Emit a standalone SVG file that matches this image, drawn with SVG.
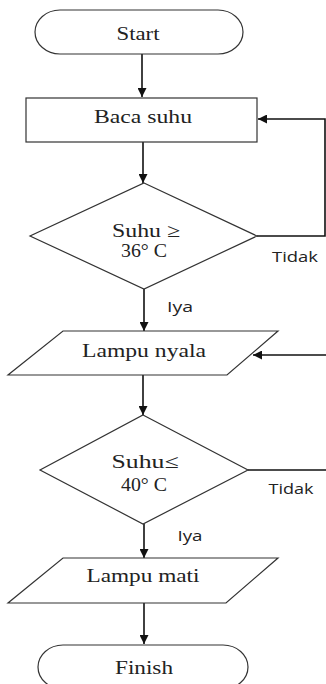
<svg xmlns="http://www.w3.org/2000/svg" width="326" height="684" viewBox="0 0 326 684">
<style>
.shape{fill:#fff;stroke:#333;stroke-width:1.2}
.conn{fill:none;stroke:#111;stroke-width:1.6}
.t{font-family:"Liberation Serif","Times New Roman",serif;font-size:19px;fill:#222;text-anchor:middle}
.lbl{font-family:"Open Sans","DejaVu Sans",sans-serif;font-size:15px;fill:#222;text-anchor:middle}
</style>
<defs>
<marker id="arr" viewBox="0 0 10 10" refX="10" refY="5" markerWidth="9" markerHeight="9" markerUnits="userSpaceOnUse" orient="auto">
<path d="M0,0 L10,5 L0,10 Z" fill="#111"/>
</marker>
</defs>
<rect width="326" height="684" fill="#fff"/>
<g id="connectors">
<line class="conn" x1="142" y1="54" x2="142" y2="97" marker-end="url(#arr)"/>
<line class="conn" x1="143" y1="142" x2="143" y2="183" marker-end="url(#arr)"/>
<polyline class="conn" points="257,236 325,236 325,119 258,119" marker-end="url(#arr)"/>
<line class="conn" x1="144" y1="289" x2="144" y2="331" marker-end="url(#arr)"/>
<line class="conn" x1="326" y1="355" x2="253" y2="355" marker-end="url(#arr)"/>
<line class="conn" x1="143" y1="375" x2="143" y2="415" marker-end="url(#arr)"/>
<line class="conn" x1="248" y1="470" x2="326" y2="470"/>
<line class="conn" x1="144" y1="524" x2="144" y2="558" marker-end="url(#arr)"/>
<line class="conn" x1="144" y1="603" x2="144" y2="644" marker-end="url(#arr)"/>
<text class="lbl" x="180" y="312" textLength="26" lengthAdjust="spacingAndGlyphs">Iya</text>
<text class="lbl" x="295" y="262" textLength="46" lengthAdjust="spacingAndGlyphs">Tidak</text>
<text class="lbl" x="291" y="494" textLength="45" lengthAdjust="spacingAndGlyphs">Tidak</text>
<text class="lbl" x="190" y="541" textLength="25" lengthAdjust="spacingAndGlyphs">Iya</text>
</g>
<g id="start">
<rect class="shape" x="35" y="10" width="208" height="44" rx="25" ry="22"/>
<text class="t" x="138" y="39.5" textLength="43" lengthAdjust="spacingAndGlyphs">Start</text>
</g>
<g id="baca-suhu">
<rect class="shape" x="26" y="98" width="231" height="44"/>
<text class="t" x="143" y="123" textLength="98" lengthAdjust="spacingAndGlyphs">Baca suhu</text>
</g>
<g id="cek-36">
<polygon class="shape" points="144,183 257,236 144,289 30,236"/>
<text class="t" x="146" y="237" textLength="68" lengthAdjust="spacingAndGlyphs">Suhu ≥</text>
<text class="t" x="144" y="257" textLength="46" lengthAdjust="spacingAndGlyphs">36° C</text>
</g>
<g id="lampu-nyala">
<polygon class="shape" points="63,331 278,331 227,375 8,375"/>
<text class="t" x="144" y="357" textLength="124" lengthAdjust="spacingAndGlyphs">Lampu nyala</text>
</g>
<g id="cek-40">
<polygon class="shape" points="143,415 248,470 143,524 40,470"/>
<text class="t" x="145" y="468" textLength="67" lengthAdjust="spacingAndGlyphs">Suhu≤</text>
<text class="t" x="144" y="491" textLength="46" lengthAdjust="spacingAndGlyphs">40° C</text>
</g>
<g id="lampu-mati">
<polygon class="shape" points="63,558 278,558 226,603 8,603"/>
<text class="t" x="143" y="582" textLength="113" lengthAdjust="spacingAndGlyphs">Lampu mati</text>
</g>
<g id="finish">
<rect class="shape" x="38" y="645" width="210" height="44" rx="25" ry="22"/>
<text class="t" x="144" y="674" textLength="58" lengthAdjust="spacingAndGlyphs">Finish</text>
</g>
</svg>
